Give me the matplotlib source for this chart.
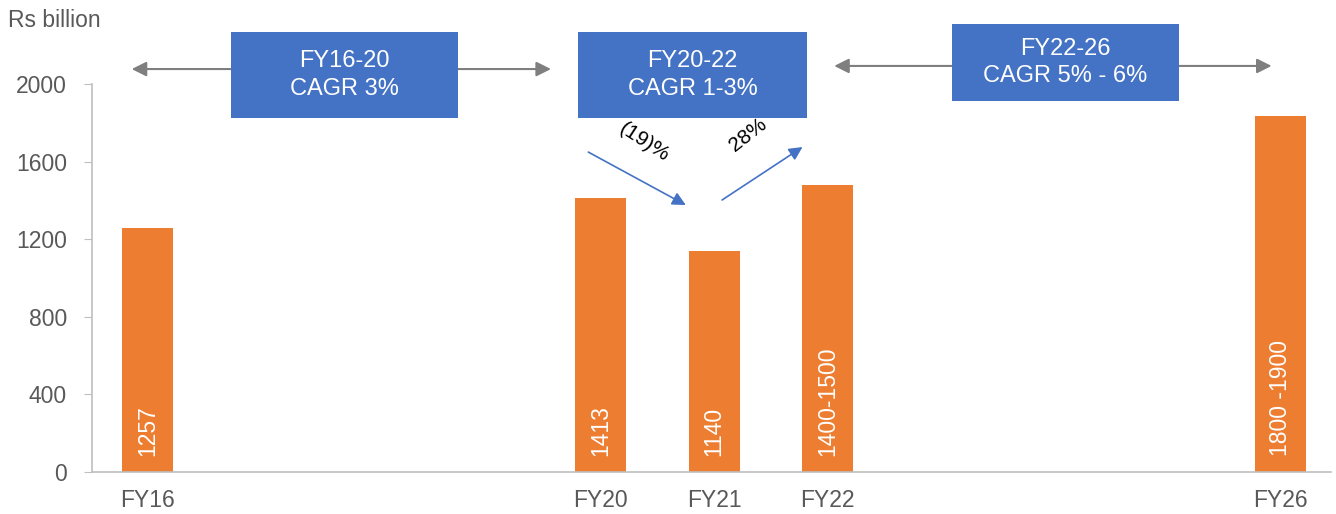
import numpy as np
import matplotlib.pyplot as plt

plt.rcParams['font.family'] = ['Liberation Sans', 'DejaVu Sans']

years = ['FY16', 'FY17', 'FY18', 'FY19', 'FY20', 'FY21', 'FY22', 'FY23', 'FY24', 'FY25', 'FY26']
bar_years = ['FY16', 'FY20', 'FY21', 'FY22', 'FY26']
bar_values = [1257, 1413, 1140, 1480, 1835]
bar_labels = ['1257', '1413', '1140', '1400-1500', '1800 -1900']
y_ticks = [0, 400, 800, 1200, 1600, 2000]

orange = '#ED7D31'
blue = '#4472C4'
grey_txt = '#595959'

fig = plt.figure(figsize=(13.36, 5.14), dpi=100)
ax = fig.add_axes([0.0689, 0.0817, 0.927, 0.7549])

pos = [years.index(y) for y in bar_years]
bars = ax.bar(pos, bar_values, width=0.45, color=orange, zorder=2)
for x, lab in zip(pos, bar_labels):
    ax.text(x, 85, lab, rotation=90, ha='center', va='bottom', color='white', fontsize=16.5)

ax.set_xlim(-0.49, 10.44)
ax.set_ylim(0, 2000)
ax.set_yticks(y_ticks)
ax.set_xticks(pos)
ax.set_xticklabels(bar_years)
ax.tick_params(axis='x', length=0, pad=12, labelsize=16.5, labelcolor=grey_txt)
ax.tick_params(axis='y', length=6, color='#BFBFBF', pad=12, labelsize=16.5, labelcolor=grey_txt)
for s in ['top', 'right']:
    ax.spines[s].set_visible(False)
for s in ['left', 'bottom']:
    ax.spines[s].set_color('#BFBFBF')
    ax.spines[s].set_linewidth(1.2)

fig.text(0.006, 0.96, 'Rs billion', fontsize=16.5, color=grey_txt, va='center')

# period arrows (grey, double headed) and CAGR boxes on top
arrow_kw = dict(arrowstyle='<|-|>', color='#7F7F7F', lw=1.5, mutation_scale=22, shrinkA=0, shrinkB=0)
ax.annotate('', xy=(-0.14, 2077), xytext=(3.56, 2077), arrowprops=arrow_kw, annotation_clip=False)
ax.annotate('', xy=(6.06, 2093), xytext=(9.92, 2093), arrowprops=arrow_kw, annotation_clip=False)

boxes = [
    (0.74, 1825, 2.0, 443, 'FY16-20\nCAGR 3%'),
    (3.80, 1825, 2.02, 443, 'FY20-22\nCAGR 1-3%'),
    (7.10, 1912, 2.0, 397, 'FY22-26\nCAGR 5% - 6%'),
]
for x0, y0, w, h, txt in boxes:
    r = plt.Rectangle((x0, y0), w, h, facecolor=blue, edgecolor='none', clip_on=False, zorder=5)
    ax.add_patch(r)
    ax.text(x0 + w / 2, y0 + h / 2, txt, ha='center', va='center', color='white',
            fontsize=17, linespacing=1.3, zorder=6)

# growth arrows
gkw = dict(arrowstyle='-|>', color=blue, lw=1.2, mutation_scale=20, shrinkA=0, shrinkB=0)
ax.annotate('', xy=(4.75, 1376), xytext=(3.89, 1649), arrowprops=gkw)
ax.annotate('', xy=(5.78, 1675), xytext=(5.07, 1402), arrowprops=gkw)
ax.text(4.38, 1700, '(19)%', rotation=-33, ha='center', va='center', fontsize=15, color='black')
ax.text(5.30, 1740, '28%', rotation=38, ha='center', va='center', fontsize=15, color='black')

fig.savefig('out.png', dpi=100)
